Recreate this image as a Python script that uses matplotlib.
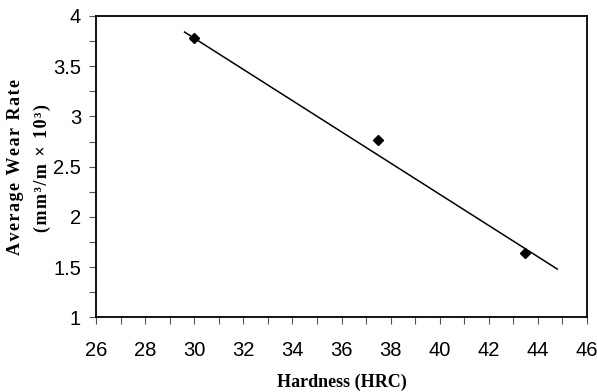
import matplotlib; matplotlib.use('agg')
import matplotlib.pyplot as plt
from matplotlib.ticker import MultipleLocator

# Messwerte
hardness = [30.0, 37.5, 43.5]
wear = [3.78, 2.77, 1.64]
trend_x = [29.6, 44.8]
trend_y = [3.84, 1.48]

tick_font = ['Liberation Sans Narrow', 'Liberation Sans', 'DejaVu Sans']
label_font = ['Liberation Serif', 'DejaVu Serif']

fig = plt.figure(figsize=(5.97, 3.92), dpi=100)
ax = fig.add_axes([0.1613, 0.1906, 0.8215, 0.7686])

ax.plot(trend_x, trend_y, 'k-', lw=1.1)
ax.plot(hardness, wear, 'kD', markersize=5.5)

ax.set_xlim(26, 46)
ax.set_ylim(1, 4)
ax.xaxis.set_major_locator(MultipleLocator(2))
ax.xaxis.set_minor_locator(MultipleLocator(1))
ax.yaxis.set_major_locator(MultipleLocator(0.5))
ax.yaxis.set_minor_locator(MultipleLocator(0.25))
ax.tick_params(which='both', direction='out', length=5, width=0.8, color='#555555')
ax.tick_params(axis='x', pad=12)
ax.tick_params(axis='y', pad=6)
for lab in ax.get_xticklabels() + ax.get_yticklabels():
    lab.set_family(tick_font)
    lab.set_fontsize(14.5)
ax.yaxis.set_major_formatter(plt.FuncFormatter(lambda v, p: ('%g' % v)))

for s in ax.spines.values():
    s.set_linewidth(1.3)

fig.text(0.5 * (96.3 + 586.7) / 597, 1 - 382 / 392, 'Hardness (HRC)',
         ha='center', va='center', fontsize=13, fontweight='bold', family=label_font)
hs = '\u200a'
fig.text(15.5 / 597, 1 - 167 / 392, hs.join('Average Wear Rate'),
         rotation=90, ha='center', va='center', fontsize=13, fontweight='bold', family=label_font)
fig.text(42 / 597, 1 - 168 / 392, hs.join('(mm\u00b3/m \u00d7 10\u00b3)'),
         rotation=90, ha='center', va='center', fontsize=13, fontweight='bold', family=label_font)

plt.savefig('out.png', dpi=100)
